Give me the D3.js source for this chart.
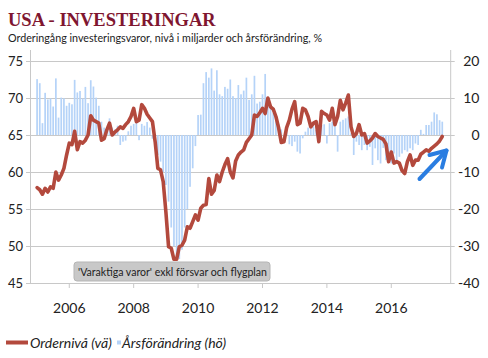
<!DOCTYPE html>
<html><head><meta charset="utf-8">
<script src="https://cdn.jsdelivr.net/npm/d3@7"></script>
<style>body{margin:0;background:#fff} svg{display:block}</style>
</head><body>
<svg id="chart" width="488" height="358"></svg>
<script>
// ---- DATA (monthly, Jan 2005 - Aug 2017) ----
const startYear = 2005;
const orderLevel = [
  57.9,57.6,57.0,57.8,57.3,58.0,57.8,60.0,58.9,59.6,60.5,62.3,
  63.9,63.7,65.5,63.0,64.1,63.9,64.3,65.0,67.6,67.0,66.8,66.6,
  64.3,64.5,65.7,66.6,65.0,65.4,65.7,66.1,65.9,66.4,66.8,67.5,
  68.6,66.8,67.0,69.1,68.6,67.8,67.3,66.8,64.1,60.5,60.3,58.7,
  54.6,49.9,49.7,48.2,48.2,49.9,50.1,50.8,52.6,52.4,53.3,54.2,
  53.5,55.1,55.5,55.6,59.1,57.0,57.5,59.6,58.7,60.0,61.0,61.8,
  60.0,59.2,61.5,62.3,62.7,63.0,64.0,64.5,65.0,67.7,67.5,68.0,
  68.6,67.9,70.0,68.8,68.5,67.5,66.0,64.0,64.1,66.0,67.0,68.5,
  69.5,66.4,66.6,68.6,68.4,67.5,66.1,66.6,66.8,64.1,68.2,67.9,
  67.7,67.0,68.6,66.4,67.5,69.7,68.4,69.3,70.4,66.1,64.8,65.2,
  66.4,65.0,65.2,63.9,64.2,64.6,65.2,64.8,64.6,64.4,63.8,61.4,
  62.7,61.2,61.4,61.2,60.2,59.8,61.4,62.3,60.9,61.6,61.6,62.4,
  62.7,63.0,62.8,63.2,63.5,63.8,64.2,64.8
];
const yoyChange = [
  15.1,14.0,3.2,11.4,9.6,9.9,7.7,15.3,4.7,10.1,9.9,7.9,
  8.7,8.3,14.9,11.5,11.9,9.9,13.0,8.6,14.8,13.1,10.1,7.9,
  3.6,2.0,1.0,4.5,2.0,1.5,2.5,-2.7,-1.8,-1.5,1.0,2.5,
  3.0,3.5,-1.4,3.0,2.5,3.5,2.0,-1.0,-3.0,-5.4,-7.2,-10.0,
  -13.5,-18.0,-25.0,-30.0,-33.0,-33.5,-31.0,-25.0,-20.0,-14.0,-9.0,-3.0,
  5.4,5.5,14.0,17.0,15.5,18.0,12.0,17.5,11.0,10.5,13.0,12.5,
  15.0,10.5,10.0,13.5,11.0,12.0,15.5,9.5,11.0,16.0,8.5,9.0,
  11.0,16.5,10.0,8.0,6.0,4.0,3.0,1.5,-1.0,1.0,-2.5,-3.0,
  -1.8,-4.5,-5.0,-0.9,0.9,2.0,1.8,2.3,1.4,-1.4,2.7,2.9,
  -2.3,3.2,3.6,2.3,-4.5,3.6,4.1,4.5,5.0,0.5,-5.4,-1.8,
  -2.7,-4.1,-2.7,-4.1,-3.2,-8.1,-3.6,-6.8,-7.7,-3.5,-6.8,-6.5,
  -7.7,-5.0,-6.8,-5.9,-5.0,-4.1,-4.5,-3.6,-4.1,-2.3,-2.7,1.4,
  0.3,2.7,2.7,3.6,6.1,5.6,4.0,3.6
];
const xTickYears = [2006, 2008, 2010, 2012, 2014, 2016];
const leftTicks = [45, 50, 55, 60, 65, 70, 75];
const rightTicks = [-40, -30, -20, -10, 0, 10, 20];
const titleText = "USA - INVESTERINGAR";
const subtitleText = "Orderingång investeringsvaror, nivå i miljarder och årsförändring, %";
const noteText = "'Varaktiga varor' exkl försvar och flygplan";
const legendLabels = ["Ordernivå (vä)", "Årsförändring (hö)"];

// ---- SETUP ----
const svg = d3.select("#chart");
const plot = {left: 30, right: 450.7, top: 61, bottom: 283};
const dates = orderLevel.map((d, i) => startYear + i / 12);

const x = d3.scaleLinear().domain([2004.78, 2017.845]).range([plot.left, plot.right]);
const yL = d3.scaleLinear().domain([45, 75]).range([plot.bottom, plot.top]);
const yR = d3.scaleLinear().domain([-40, 20]).range([plot.bottom, plot.top]);

const font = "Lato, 'Open Sans', sans-serif";
const gridColor = "#c8c8c8";

// title
svg.append("text").attr("x", 8).attr("y", 26)
  .attr("font-family", "'Liberation Serif', 'Times New Roman', serif")
  .attr("font-weight", "bold").attr("font-size", 18.5).attr("fill", "#7f1630")
  .text(titleText);
svg.append("text").attr("x", 8).attr("y", 42)
  .attr("font-family", font).attr("font-size", 12).attr("fill", "#222")
  .attr("textLength", 314).attr("lengthAdjust", "spacingAndGlyphs")
  .text(subtitleText);

// gridlines
svg.append("g").selectAll("line").data(leftTicks).join("line")
  .attr("x1", plot.left - 4).attr("x2", plot.right + 4)
  .attr("y1", d => Math.round(yL(d)) + 0.5).attr("y2", d => Math.round(yL(d)) + 0.5)
  .attr("stroke", gridColor).attr("stroke-width", 1);

// bars
const barW = 1.7;
svg.append("g").selectAll("rect").data(yoyChange).join("rect")
  .attr("x", (d, i) => x(dates[i]) - barW / 2)
  .attr("width", barW)
  .attr("y", d => Math.min(yR(d), yR(0)))
  .attr("height", d => Math.abs(yR(d) - yR(0)))
  .attr("fill", "#b5d3f8");

// line
const line = d3.line().x((d, i) => x(dates[i])).y(d => yL(d)).curve(d3.curveLinear);
svg.append("path").datum(orderLevel).attr("d", line)
  .attr("fill", "none").attr("stroke", "#b3493d").attr("stroke-width", 3.6)
  .attr("stroke-linejoin", "round").attr("stroke-linecap", "round");

// axes lines
svg.append("line").attr("x1", plot.left + 0.5).attr("x2", plot.left + 0.5)
  .attr("y1", 50).attr("y2", plot.bottom).attr("stroke", gridColor);
svg.append("line").attr("x1", plot.right).attr("x2", plot.right)
  .attr("y1", 50).attr("y2", plot.bottom).attr("stroke", gridColor);

// left axis labels
svg.append("g").selectAll("text").data(leftTicks).join("text")
  .attr("x", 23).attr("y", d => yL(d) + 4.5)
  .attr("text-anchor", "end").attr("font-family", font).attr("font-size", 13)
  .attr("fill", "#222").text(d => d);
// right axis labels
svg.append("g").selectAll("text").data(rightTicks).join("text")
  .attr("x", 479.5).attr("y", d => yR(d) + 5)
  .attr("text-anchor", "end").attr("font-family", font).attr("font-size", 14)
  .attr("fill", "#222").text(d => d);

// x axis ticks + labels
const xg = svg.append("g");
xg.selectAll("line").data(xTickYears).join("line")
  .attr("x1", d => x(d)).attr("x2", d => x(d))
  .attr("y1", plot.bottom).attr("y2", plot.bottom + 5)
  .attr("stroke", gridColor);
xg.selectAll("text").data(xTickYears).join("text")
  .attr("x", d => x(d)).attr("y", 313)
  .attr("text-anchor", "middle").attr("font-family", font).attr("font-size", 14)
  .attr("fill", "#222").text(d => d);

// note box
const note = svg.append("g");
note.append("rect").attr("x", 74).attr("y", 262).attr("width", 196).attr("height", 19)
  .attr("rx", 3).attr("fill", "#c8c8c8").attr("stroke", "#b5b5b5");
note.append("text").attr("x", 78).attr("y", 276).attr("font-family", font)
  .attr("font-size", 12).attr("fill", "#222")
  .attr("textLength", 189).attr("lengthAdjust", "spacingAndGlyphs").text(noteText);

// arrow
const arrowColor = "#2a7de1";
const arrowPts = [[419.5, 179], [446.5, 150.5]];
svg.append("path").attr("d", d3.line()(arrowPts))
  .attr("stroke", arrowColor).attr("stroke-width", 4).attr("fill", "none").attr("stroke-linecap", "round");
svg.append("path").attr("d", d3.line()([[429.5, 155], [446.5, 150.5], [442, 167.5]]))
  .attr("stroke", arrowColor).attr("stroke-width", 4).attr("fill", "none")
  .attr("stroke-linecap", "round").attr("stroke-linejoin", "round");

// legend
const lg = svg.append("g");
lg.append("line").attr("x1", 6).attr("x2", 28).attr("y1", 342.5).attr("y2", 342.5)
  .attr("stroke", "#b3493d").attr("stroke-width", 4);
lg.append("text").attr("x", 30).attr("y", 348).attr("font-family", font)
  .attr("font-style", "italic").attr("font-size", 14).attr("fill", "#222").text(legendLabels[0]);
lg.append("rect").attr("x", 117).attr("y", 340.5).attr("width", 4).attr("height", 4).attr("fill", "#b5d3f8");
lg.append("text").attr("x", 122).attr("y", 348).attr("font-family", font)
  .attr("font-style", "italic").attr("font-size", 14).attr("fill", "#222").text(legendLabels[1]);
</script>
</body></html>
